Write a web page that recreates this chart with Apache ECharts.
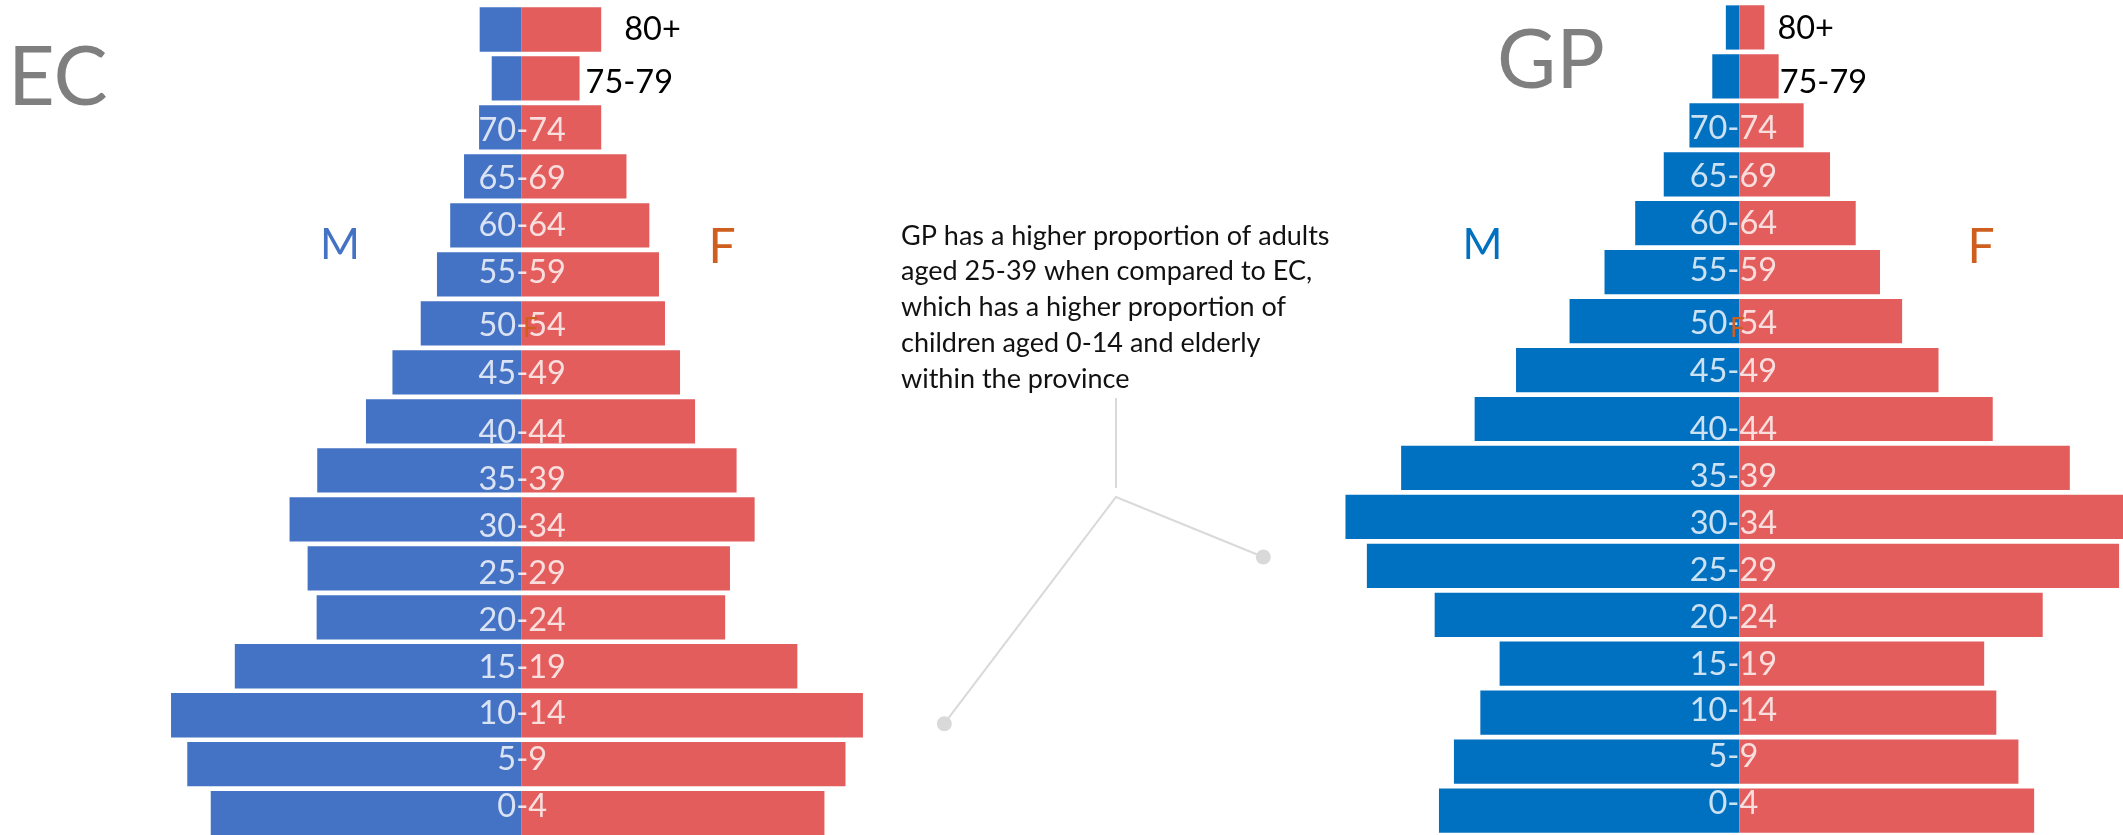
<!DOCTYPE html>
<html>
<head>
<meta charset="utf-8">
<title>EC vs GP population pyramids</title>
<script src="https://cdn.jsdelivr.net/npm/echarts@6/dist/echarts.min.js"></script>
<style>
  html, body { margin: 0; padding: 0; background: #ffffff; }
  #chart { width: 2123px; height: 835px; }
</style>
</head>
<body>
<div id="chart"></div>
<script>
// Age bands, youngest first (drawn bottom to top)
const ageGroups = ['0-4', '5-9', '10-14', '15-19', '20-24', '25-29', '30-34', '35-39',
  '40-44', '45-49', '50-54', '55-59', '60-64', '65-69', '70-74', '75-79', '80+'];

// Share of each province's population (%), by sex
const ecMale   = [5.16, 5.55, 5.82, 4.76, 3.40, 3.55, 3.85, 3.39, 2.58, 2.14, 1.67, 1.40, 1.18, 0.95, 0.70, 0.49, 0.69];
const ecFemale = [5.04, 5.39, 5.68, 4.59, 3.39, 3.47, 3.88, 3.58, 2.89, 2.64, 2.39, 2.29, 2.13, 1.75, 1.33, 0.97, 1.33];
const gpMale   = [4.21, 4.00, 3.63, 3.36, 4.27, 5.22, 5.52, 4.74, 3.71, 3.13, 2.38, 1.89, 1.46, 1.06, 0.70, 0.38, 0.19];
const gpFemale = [4.13, 3.91, 3.60, 3.43, 4.25, 5.32, 5.60, 4.63, 3.55, 2.79, 2.28, 1.97, 1.63, 1.27, 0.90, 0.55, 0.35];

// Bands whose name sits beside the female bar instead of on the centre line
const outsideLabels = ['75-79', '80+'];

const noteLines = [
  'GP has a higher proportion of adults',
  'aged 25-39 when compared to EC,',
  'which has a higher proportion of',
  'children aged 0-14 and elderly',
  'within the province'
];

// ---- styling / layout ----
const FONT = 'Lato, "Open Sans", "Noto Sans", sans-serif';
const FEMALE_COLOR = '#E35D5D';
const SEX_LABEL_COLOR = '#CF5F1E';
const TITLE_COLOR = '#7F7F7F';
const CONNECTOR = '#D9D9D9';
const LABEL_SIZE = 32.5;
// small vertical nudges of the centre-line band names (px, +down)
const labelShift = [-7, -5, -2, 1, 3, 5, 7, 9, 11, 1, 2, -2, 0, 2, 3, 0, 0];

const panels = [
  {
    title: 'EC', male: ecMale, female: ecFemale, maleColor: '#4472C4',
    range: 7, grid: { left: 100.04, width: 842.31, top: 5, height: 832.7 },
    labelDx: 1,
    outside: { '80+': { distance: 23, dy: 0 }, '75-79': { distance: 6, dy: 4 } }
  },
  {
    title: 'GP', male: gpMale, female: gpFemale, maleColor: '#0070C0',
    range: 6, grid: { left: 1311.21, width: 856.38, top: 3, height: 832 },
    labelDx: -6,
    outside: { '80+': { distance: 13, dy: 1 }, '75-79': { distance: 1, dy: 6 } }
  }
];

const grids = [], xAxes = [], yAxes = [], series = [];

panels.forEach((p, i) => {
  grids.push(Object.assign({ containLabel: false, outerBoundsMode: 'none' }, p.grid));
  xAxes.push({ type: 'value', gridIndex: i, min: -p.range, max: p.range, show: false });
  yAxes.push({ type: 'category', gridIndex: i, data: ageGroups, show: false });

  // males drawn leftwards from the centre line
  series.push({
    type: 'bar', name: 'M', xAxisIndex: i, yAxisIndex: i,
    data: p.male.map(v => -v),
    barGap: '-100%', barCategoryGap: '9.6%',
    itemStyle: { color: p.maleColor },
    silent: true
  });

  // females drawn rightwards; the oldest bands carry their name at the bar end
  series.push({
    type: 'bar', name: 'F', xAxisIndex: i, yAxisIndex: i,
    data: p.female.map((v, j) => {
      const g = ageGroups[j];
      const o = p.outside[g];
      if (!o) return v;
      return {
        value: v,
        label: {
          show: true, position: 'right', distance: o.distance, offset: [0, o.dy],
          formatter: '{b}', color: '#000000', fontSize: LABEL_SIZE, fontFamily: FONT
        }
      };
    }),
    barGap: '-100%', barCategoryGap: '9.6%',
    itemStyle: { color: FEMALE_COLOR },
    silent: true
  });

  // band names centred on the zero line
  series.push({
    type: 'scatter', xAxisIndex: i, yAxisIndex: i,
    symbolSize: 1, itemStyle: { color: 'rgba(0,0,0,0)' },
    z: 5, silent: true,
    data: ageGroups
      .map((g, j) => ({ g, j }))
      .filter(d => outsideLabels.indexOf(d.g) < 0)
      .map(d => ({
        name: d.g, value: [0, d.g],
        label: { offset: [p.labelDx, labelShift[d.j]] }
      })),
    label: {
      show: true, position: 'inside', formatter: '{b}',
      color: '#ffffff', fontSize: LABEL_SIZE, fontFamily: FONT
    }
  });
});

function text(x, y, str, size, color, align, vAlign, extra) {
  return {
    type: 'text', x: x, y: y, z: 100, silent: true,
    style: Object.assign({
      text: str, fill: color, font: size + 'px ' + FONT,
      align: align || 'left', verticalAlign: vAlign || 'middle'
    }, extra || {})
  };
}

const graphics = [
  text(8, 79, 'EC', 81, TITLE_COLOR),
  text(1497, 62, 'GP', 81, TITLE_COLOR),
  text(340, 245, 'M', 43, '#4472C4', 'center'),
  text(722, 248, 'F', 48, SEX_LABEL_COLOR, 'center'),
  text(1482.5, 245, 'M', 43, '#0070C0', 'center'),
  text(1981, 248, 'F', 48, SEX_LABEL_COLOR, 'center'),
  text(523, 328, 'F', 27, SEX_LABEL_COLOR),
  text(1730, 328, 'F', 27, SEX_LABEL_COLOR),
  text(901, 218, noteLines.join('\n'), 27, '#111111', 'left', 'top', { lineHeight: 35.8 }),
  // callout connectors
  { type: 'line', z: 90, silent: true, shape: { x1: 1116, y1: 398, x2: 1116, y2: 488 },
    style: { stroke: CONNECTOR, lineWidth: 2 } },
  { type: 'polyline', z: 90, silent: true,
    shape: { points: [[944.3, 723.7], [1116, 497], [1263.3, 557]] },
    style: { stroke: CONNECTOR, lineWidth: 2, fill: null } },
  { type: 'circle', z: 91, silent: true, shape: { cx: 944.3, cy: 723.7, r: 7.5 }, style: { fill: CONNECTOR } },
  { type: 'circle', z: 91, silent: true, shape: { cx: 1263.3, cy: 557, r: 7.5 }, style: { fill: CONNECTOR } }
];

const chart = echarts.init(document.getElementById('chart'), null, { renderer: 'canvas' });
chart.setOption({
  backgroundColor: '#ffffff',
  animation: false,
  grid: grids,
  xAxis: xAxes,
  yAxis: yAxes,
  series: series,
  graphic: graphics
});
</script>
</body>
</html>
